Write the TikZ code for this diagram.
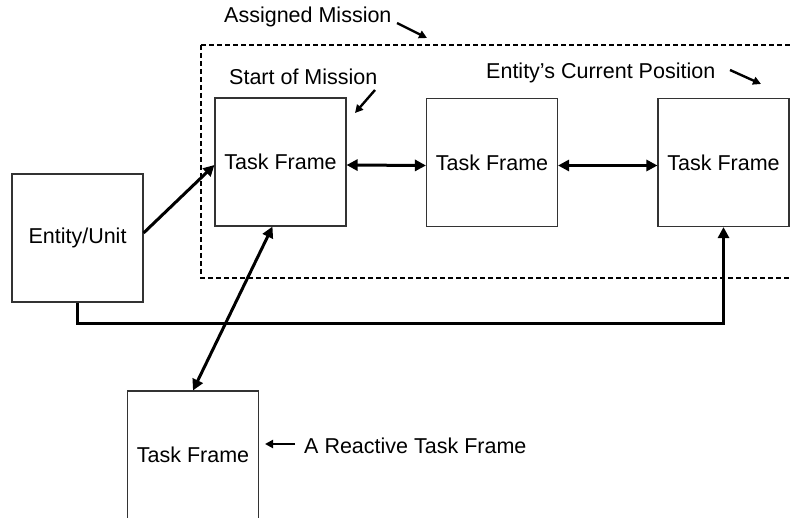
\documentclass[tikz,border=0pt]{standalone}
\usepackage{fontspec}
\setmainfont{Liberation Sans}
\usetikzlibrary{arrows.meta,calc}
\tikzset{
  frame/.style={draw=black!80,line width=1.1pt,fill=white,inner sep=0pt,
    minimum width=131pt,minimum height=128pt,font=\fontsize{21.5}{25}\selectfont},
  lbl/.style={inner sep=0pt,font=\fontsize{21.5}{25}\selectfont,anchor=west},
  conn/.style={line width=3pt,-{Triangle[length=11pt,width=11pt]}},
  bconn/.style={line width=3pt,{Triangle[length=11pt,width=11pt]}-{Triangle[length=11pt,width=11pt]}},
  small/.style={line width=2.4pt,-{Triangle[length=8pt,width=8pt]}},
  mission/.style={dash pattern=on 5pt off 3pt,line width=1.8pt}
}
\begin{document}
\begin{tikzpicture}[x=1pt,y=-1pt]
\useasboundingbox (0,0) rectangle (791,518);
\begin{scope}
\clip (0,0) rectangle (791,518);
\draw[mission] (201,45) -- (800,45);
\draw[mission] (201,45) -- (201,278) -- (800,278);
\node[frame] (e) at (77.5,238) {Entity/Unit};
\node[frame] (t1) at (280.5,162) {Task Frame};
\node[frame] (t2) at (492,162.5) {Task Frame};
\node[frame] (t3) at (723.5,162.5) {Task Frame};
\node[frame] (t4) at (193,455) {Task Frame};
\end{scope}
% labels
\node[lbl] (am) at (224,17) {Assigned Mission};
\node[lbl] (sm) at (229,77) {Start of Mission};
\node[lbl] (cp) at (486,73) {Entity’s Current Position};
\node[lbl] (rt) at (304,446) {A Reactive Task Frame};
\coordinate (amS) at (397,23);
\coordinate (amT) at (427,38);
\coordinate (smS) at (375,90);
\coordinate (smT) at (355,113);
\coordinate (cpS) at (730,70);
\coordinate (cpT) at (761,84);
\coordinate (rtS) at (295,444);
\coordinate (rtT) at (265,444);
\draw[small] (amS) -- (amT);
\draw[small] (smS) -- (smT);
\draw[small] (cpS) -- (cpT);
\draw[small] (rtS) -- (rtT);
% connectors
\draw[conn] ([yshift=5pt]e.east) -- ([yshift=-3pt]t1.west);
\draw[bconn] ([yshift=-3pt]t1.east) -- ([yshift=-3pt]t2.west);
\draw[bconn] ([yshift=-3pt]t2.east) -- ([yshift=-3pt]t3.west);
\draw[bconn] ([xshift=-8pt]t1.south) -- (t4.north);
\draw[conn] (e.south) -- ++(0,21) -| (t3.south);
\end{tikzpicture}
\end{document}
